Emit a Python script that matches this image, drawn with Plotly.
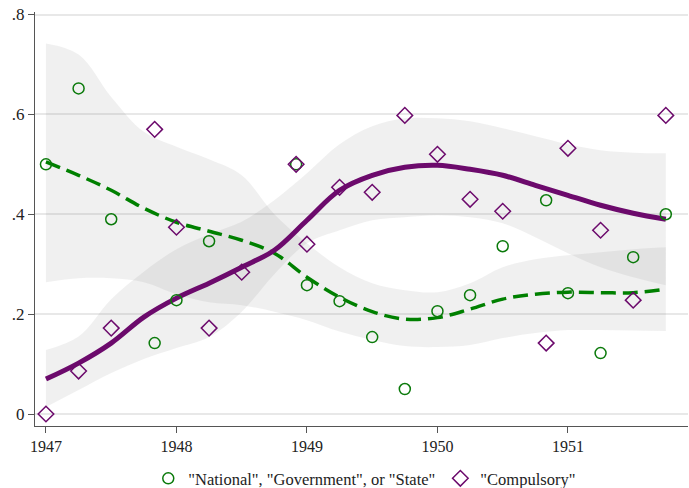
import plotly.graph_objects as go

# Observed shares by survey date
nat_x = [1947.0, 1947.25, 1947.5, 1947.833, 1948.0, 1948.25, 1948.917, 1949.0,
         1949.25, 1949.5, 1949.75, 1950.0, 1950.25, 1950.5, 1950.833, 1951.0,
         1951.25, 1951.5, 1951.75]
nat_y = [0.50, 0.652, 0.39, 0.142, 0.228, 0.346, 0.50, 0.258,
         0.226, 0.154, 0.05, 0.206, 0.238, 0.336, 0.428, 0.242,
         0.122, 0.314, 0.40]

comp_x = [1947.0, 1947.25, 1947.5, 1947.833, 1948.0, 1948.25, 1948.5, 1948.917,
          1949.0, 1949.25, 1949.5, 1949.75, 1950.0, 1950.25, 1950.5, 1950.833,
          1951.0, 1951.25, 1951.5, 1951.75]
comp_y = [0.0, 0.086, 0.172, 0.57, 0.374, 0.172, 0.284, 0.50,
          0.34, 0.454, 0.444, 0.598, 0.52, 0.43, 0.406, 0.142,
          0.532, 0.368, 0.228, 0.598]

# Smoothed fits and confidence bands on a quarterly grid
fit_x = [1947.0, 1947.25, 1947.5, 1947.75, 1948.0, 1948.25, 1948.5, 1948.75,
         1949.0, 1949.25, 1949.5, 1949.75, 1950.0, 1950.25, 1950.5, 1950.75,
         1951.0, 1951.25, 1951.5, 1951.75]

nat_fit = [0.505, 0.478, 0.448, 0.412, 0.384, 0.366, 0.348, 0.322,
           0.274, 0.234, 0.205, 0.19, 0.193, 0.21, 0.23, 0.24,
           0.244, 0.243, 0.243, 0.25]
nat_hi = [0.742, 0.72, 0.635, 0.565, 0.535, 0.51, 0.478, 0.40,
          0.342, 0.294, 0.262, 0.248, 0.244, 0.262, 0.294, 0.31,
          0.318, 0.324, 0.33, 0.334]
nat_lo = [0.264, 0.272, 0.272, 0.264, 0.24, 0.224, 0.218, 0.205,
          0.188, 0.165, 0.148, 0.136, 0.134, 0.138, 0.152, 0.162,
          0.168, 0.168, 0.167, 0.166]

comp_fit = [0.07, 0.102, 0.142, 0.194, 0.232, 0.262, 0.294, 0.328,
            0.388, 0.448, 0.478, 0.494, 0.498, 0.49, 0.478, 0.458,
            0.438, 0.418, 0.402, 0.39]
comp_hi = [0.128, 0.155, 0.23, 0.285, 0.33, 0.36, 0.385, 0.428,
           0.482, 0.54, 0.576, 0.592, 0.592, 0.586, 0.572, 0.556,
           0.54, 0.528, 0.523, 0.522]
comp_lo = [0.014, 0.048, 0.082, 0.11, 0.132, 0.154, 0.205, 0.28,
           0.342, 0.368, 0.388, 0.394, 0.398, 0.394, 0.382, 0.354,
           0.322, 0.294, 0.274, 0.258]

x_ticks = [1947, 1948, 1949, 1950, 1951]
y_ticks = [0, 0.2, 0.4, 0.6, 0.8]
y_labels = ["0", ".2", ".4", ".6", ".8"]

GREEN = "#0b7a0b"
GREEN_LINE = "#008000"
PURPLE = "#6c0a6c"
BAND = "rgba(110,110,110,0.10)"
SERIF = "Liberation Serif, Times New Roman, serif"

fig = go.Figure()


def add_band(lo, hi):
    fig.add_trace(go.Scatter(x=fit_x, y=lo, mode="lines", line=dict(width=0, shape="spline"),
                             showlegend=False, hoverinfo="skip"))
    fig.add_trace(go.Scatter(x=fit_x, y=hi, mode="lines", line=dict(width=0, shape="spline"),
                             fill="tonexty", fillcolor=BAND, showlegend=False, hoverinfo="skip"))


add_band(nat_lo, nat_hi)
add_band(comp_lo, comp_hi)

fig.add_trace(go.Scatter(x=fit_x, y=nat_fit, mode="lines", showlegend=False,
                         line=dict(color=GREEN_LINE, width=3.5, dash="15px,7px", shape="spline")))
fig.add_trace(go.Scatter(x=fit_x, y=comp_fit, mode="lines", showlegend=False,
                         line=dict(color=PURPLE, width=5, shape="spline")))

fig.add_trace(go.Scatter(x=nat_x, y=nat_y, mode="markers",
                         name='"National", "Government", or "State"',
                         marker=dict(symbol="circle-open", size=11, color=GREEN,
                                     line=dict(width=1.5, color=GREEN))))
fig.add_trace(go.Scatter(x=comp_x, y=comp_y, mode="markers",
                         name='"Compulsory"',
                         marker=dict(symbol="diamond-open", size=12, color=PURPLE,
                                     line=dict(width=1.5, color=PURPLE))))

fig.update_layout(
    width=689, height=488,
    margin=dict(l=35, r=1, t=12, b=62, autoexpand=False),
    plot_bgcolor="white", paper_bgcolor="white",
    font=dict(family=SERIF, size=16, color="#222222"),
    showlegend=True,
    legend=dict(orientation="h", x=0.505, xanchor="center", y=-0.127, yanchor="middle",
                traceorder="normal",
                font=dict(family=SERIF, size=16.5, color="#222222"),
                itemwidth=30, tracegroupgap=0, bgcolor="rgba(0,0,0,0)"),
    xaxis=dict(range=[1946.916, 1951.92], tickmode="array", tickvals=x_ticks,
               ticktext=[str(t) for t in x_ticks],
               showgrid=False, zeroline=False, showline=True, linecolor="#555555", linewidth=1.3,
               ticks="outside", ticklen=6, tickcolor="#555555", tickwidth=1,
               tickfont=dict(family=SERIF, size=16, color="#222222")),
    yaxis=dict(range=[-0.024, 0.805], tickmode="array", tickvals=y_ticks, ticktext=y_labels,
               showgrid=True, gridcolor="#e8e8e8", gridwidth=1.5, zeroline=False,
               showline=True, linecolor="#555555", linewidth=1.3,
               ticks="outside", ticklen=6, tickcolor="#555555", tickwidth=1,
               tickfont=dict(family=SERIF, size=17, color="#222222")),
)

fig.write_html("out.html")
